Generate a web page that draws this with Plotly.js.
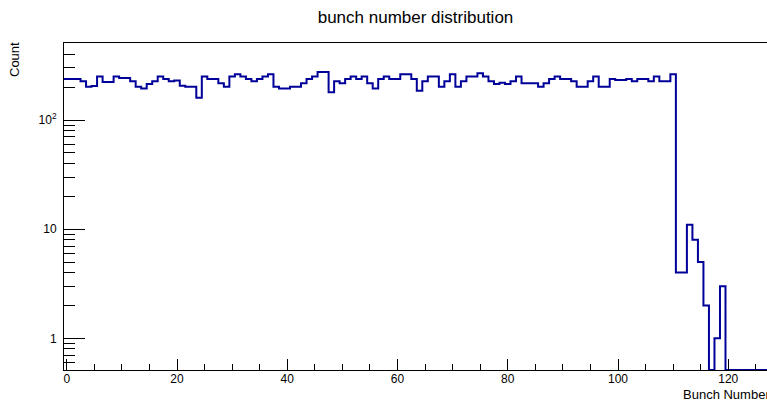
<!DOCTYPE html>
<html>
<head>
<meta charset="utf-8">
<script src="https://cdn.plot.ly/plotly-3.0.1.min.js"></script>
<style>
  html, body { margin: 0; padding: 0; background: #fff; }
  #chart { width: 767px; height: 402px; }
</style>
</head>
<body>
<div id="chart"></div>
<script>
// ---- data (bin centres 0,1,2,... ; bin width 1) ----
const chartTitle = "bunch number distribution";
const xTitle = "Bunch Number";
const yTitle = "Count";
const firstBinCenter = 0;
const binWidth = 1;
const counts = [
  238, 238, 238, 226, 202, 205, 250, 223, 223, 250,
  242, 242, 226, 202, 194, 214, 226, 250, 238, 226,
  230, 206, 202, 202, 160, 250, 238, 238, 217, 202,
  250, 262, 250, 238, 226, 238, 250, 262, 202, 194,
  194, 202, 202, 217, 238, 250, 275, 275, 180, 226,
  217, 238, 250, 238, 250, 217, 194, 238, 250, 238,
  238, 262, 262, 238, 185, 226, 250, 250, 202, 226,
  262, 202, 226, 250, 250, 268, 250, 226, 214, 220,
  214, 226, 250, 217, 217, 217, 202, 217, 238, 250,
  238, 238, 226, 202, 202, 226, 250, 202, 202, 238,
  232, 232, 238, 226, 238, 238, 226, 250, 226, 226,
  262, 4, 4, 11, 8, 5, 2, 0, 1, 3,
  0, 0, 0, 0, 0, 0, 0, 0
];
const xTickVals = [0, 20, 40, 60, 80, 100, 120];
const yTickVals = [1, 10, 100];
const yTickText = ["1", "10", "10<sup>2</sup>"];
const yMinorVals = [0.6, 0.7, 0.8, 0.9, 2, 3, 4, 5, 6, 7, 8, 9,
                    20, 30, 40, 50, 60, 70, 80, 90, 200, 300, 400, 500];

// ---- axis ranges ----
const xRange = [-0.5, 127.03];
const yLogRange = [-0.2904, 2.7055];
const yFloor = Math.pow(10, yLogRange[0]);

// build step outline (bin edges) from the counts
const edges = [];
const levels = [];
counts.forEach((c, i) => {
  edges.push(firstBinCenter + (i - 0.5) * binWidth);
  levels.push(c > 0 ? c : yFloor);
});
edges.push(firstBinCenter + (counts.length - 0.5) * binWidth);
levels.push(levels[levels.length - 1]);

const font = "Liberation Sans, Arial, Helvetica, sans-serif";

const trace = {
  x: edges,
  y: levels,
  type: "scatter",
  mode: "lines",
  line: { shape: "hv", color: "#000099", width: 2 },
  hoverinfo: "skip"
};

const layout = {
  width: 767,
  height: 402,
  margin: { l: 64, r: 0, t: 43, b: 32, pad: 0 },
  paper_bgcolor: "#ffffff",
  plot_bgcolor: "#ffffff",
  showlegend: false,
  font: { family: font, color: "#000000", size: 12 },
  title: {
    text: chartTitle,
    font: { family: font, size: 17, color: "#000000" },
    x: 0.5, xref: "paper", xanchor: "center",
    y: 1 - 17 / 402, yref: "container", yanchor: "middle"
  },
  xaxis: {
    range: xRange,
    tickmode: "array",
    tickvals: xTickVals,
    ticks: "inside",
    ticklen: 11,
    tickwidth: 1,
    tickcolor: "#000000",
    showline: true,
    linecolor: "#000000",
    linewidth: 1,
    mirror: true,
    showgrid: false,
    zeroline: false,
    tickfont: { family: font, size: 12, color: "#000000" },
    ticklabelstandoff: -2,
    minor: { dtick: 5, tick0: 0, ticks: "inside", ticklen: 6, tickcolor: "#000000", tickwidth: 1, showgrid: false }
  },
  yaxis: {
    type: "log",
    range: yLogRange,
    tickmode: "array",
    tickvals: yTickVals,
    ticktext: yTickText,
    ticks: "inside",
    ticklen: 21,
    tickwidth: 1,
    tickcolor: "#000000",
    showline: true,
    linecolor: "#000000",
    linewidth: 1,
    showgrid: false,
    zeroline: false,
    tickfont: { family: font, size: 12, color: "#000000" },
    ticklabelstandoff: 4,
    minor: { tickmode: "array", tickvals: yMinorVals, ticks: "inside", ticklen: 11, tickcolor: "#000000", tickwidth: 1, showgrid: false }
  },
  annotations: [
    {
      text: yTitle, textangle: -90,
      xref: "paper", yref: "paper",
      x: (14 - 64) / 703, y: (370 - 60) / 327,
      xanchor: "center", yanchor: "middle",
      showarrow: false,
      font: { family: font, size: 13, color: "#000000" }
    },
    {
      text: xTitle,
      xref: "paper", yref: "paper",
      x: (681 - 64) / 703, y: (370 - 394) / 327,
      xanchor: "left", yanchor: "middle",
      showarrow: false,
      font: { family: font, size: 13, color: "#000000" }
    }
  ]
};

Plotly.newPlot("chart", [trace], layout, { displayModeBar: false, staticPlot: true });
</script>
</body>
</html>
